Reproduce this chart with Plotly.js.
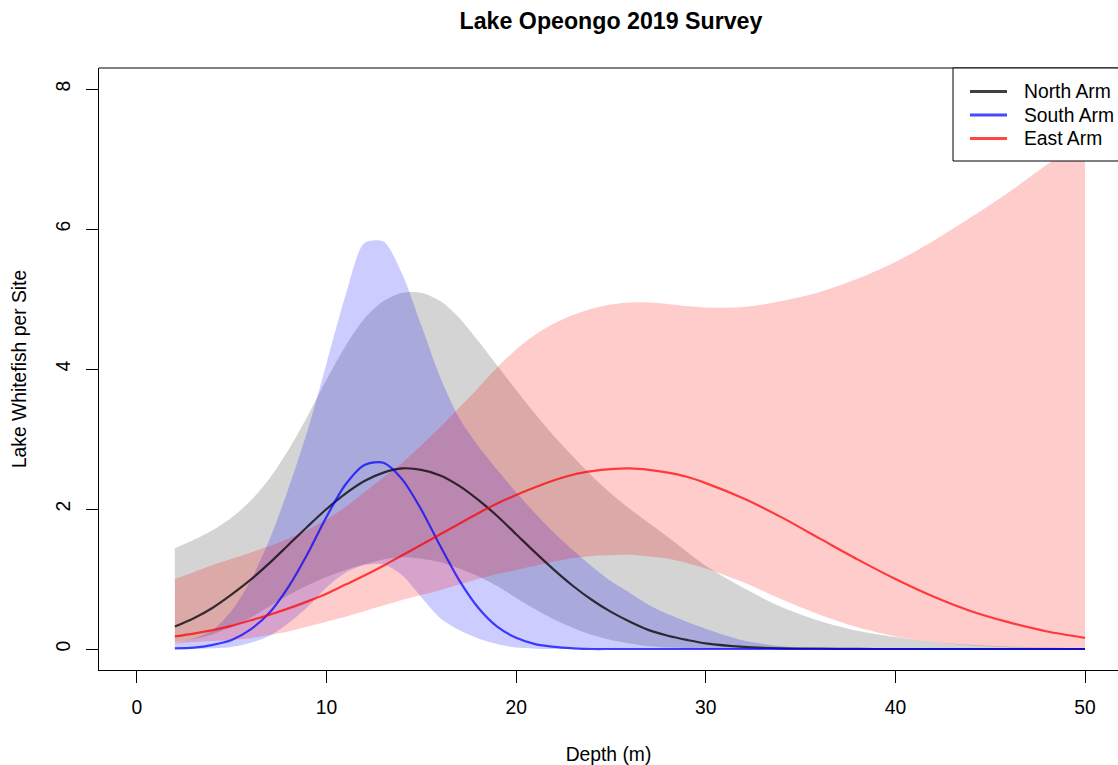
<!DOCTYPE html>
<html>
<head>
<meta charset="utf-8">
<script src="https://cdn.plot.ly/plotly-3.0.1.min.js"></script>
<style>html,body{margin:0;padding:0;background:#fff;overflow:hidden;}</style>
</head>
<body>
<div id="chart" style="width:1118px;height:765px;"></div>
<script>
// Depth grid (m)
const depth = [2,3,4,5,6,7,8,9,10,11,12,13,14,15,16,17,18,19,20,21,22,23,24,25,26,27,28,29,30,32,34,36,38,40,42,44,46,48,50];

// North Arm: fitted mean and confidence band
const northMean = [0.32,0.44,0.59,0.78,0.99,1.23,1.49,1.75,2.00,2.22,2.40,2.52,2.58,2.56,2.48,2.33,2.13,1.90,1.64,1.38,1.13,0.90,0.70,0.53,0.39,0.27,0.19,0.13,0.08,0.03,0.01,0.004,0.001,0,0,0,0,0,0];
const northUpper = [1.44,1.56,1.70,1.88,2.12,2.44,2.85,3.33,3.85,4.33,4.72,4.97,5.09,5.09,4.97,4.73,4.40,4.05,3.70,3.36,3.04,2.75,2.47,2.22,2.00,1.80,1.60,1.39,1.19,0.87,0.60,0.40,0.26,0.17,0.10,0.06,0.035,0.02,0.012];
const northLower = [0.10,0.14,0.21,0.32,0.45,0.61,0.77,0.91,1.03,1.13,1.21,1.28,1.31,1.29,1.24,1.15,1.04,0.90,0.73,0.57,0.42,0.30,0.20,0.13,0.08,0.04,0.02,0.01,0.005,0,0,0,0,0,0,0,0,0,0];

// South Arm
const southMean = [0.01,0.02,0.06,0.13,0.28,0.52,0.89,1.36,1.89,2.35,2.63,2.66,2.42,1.99,1.47,0.98,0.59,0.32,0.16,0.07,0.03,0.01,0,0,0,0,0,0,0,0,0,0,0,0,0,0,0,0,0];
const southUpper = [0.09,0.15,0.27,0.55,0.98,1.57,2.30,3.12,4.08,5.05,5.80,5.82,5.35,4.62,3.88,3.30,2.90,2.56,2.24,1.94,1.66,1.41,1.18,0.97,0.80,0.63,0.50,0.39,0.29,0.12,0.04,0.01,0,0,0,0,0,0,0];
const southLower = [0.001,0.002,0.012,0.03,0.09,0.19,0.37,0.60,0.88,1.09,1.20,1.21,1.05,0.74,0.44,0.27,0.15,0.07,0.02,0.005,0,0,0,0,0,0,0,0,0,0,0,0,0,0,0,0,0,0,0];

// East Arm
const eastMean = [0.18,0.22,0.27,0.33,0.41,0.49,0.58,0.68,0.79,0.92,1.05,1.19,1.34,1.49,1.64,1.79,1.94,2.08,2.20,2.31,2.41,2.49,2.54,2.57,2.58,2.56,2.52,2.46,2.37,2.15,1.88,1.58,1.28,1.00,0.75,0.54,0.38,0.25,0.16];
const eastUpper = [1.00,1.10,1.20,1.29,1.38,1.47,1.58,1.70,1.85,2.03,2.24,2.45,2.66,2.91,3.17,3.45,3.73,4.02,4.28,4.49,4.65,4.77,4.86,4.92,4.95,4.95,4.93,4.90,4.88,4.885,4.97,5.10,5.29,5.53,5.83,6.17,6.53,6.92,7.30];
const eastLower = [0.08,0.10,0.115,0.13,0.155,0.20,0.25,0.32,0.39,0.46,0.54,0.62,0.70,0.77,0.84,0.92,1.00,1.07,1.13,1.19,1.25,1.30,1.33,1.34,1.345,1.32,1.29,1.23,1.15,0.95,0.71,0.49,0.31,0.18,0.10,0.05,0.025,0.012,0.005];

const seriesNames = ["North Arm", "South Arm", "East Arm"];
const xTicks = [0,10,20,30,40,50];
const yTicks = [0,2,4,6,8];

const bandColors = ["rgba(0,0,0,0.17)", "rgba(0,0,255,0.2)", "rgba(255,0,0,0.2)"];
const lineColors = ["rgba(0,0,0,0.75)", "rgba(0,0,255,0.72)", "rgba(255,0,0,0.72)"];

const means = [northMean, southMean, eastMean];
const uppers = [northUpper, southUpper, eastUpper];
const lowers = [northLower, southLower, eastLower];

const FONT = "Liberation Sans, Arial, Helvetica, sans-serif";
const traces = [];
for (let i = 0; i < 3; i++) {
  traces.push({
    x: depth, y: lowers[i], type: "scatter", mode: "lines",
    line: {width: 0, shape: "spline", smoothing: 0.8, color: "rgba(0,0,0,0)"},
    hoverinfo: "skip", showlegend: false, name: seriesNames[i] + " lower"
  });
  traces.push({
    x: depth, y: uppers[i], type: "scatter", mode: "lines",
    fill: "tonexty", fillcolor: bandColors[i],
    line: {width: 0, shape: "spline", smoothing: 0.8, color: "rgba(0,0,0,0)"},
    hoverinfo: "skip", showlegend: false, name: seriesNames[i] + " upper"
  });
}
for (let i = 0; i < 3; i++) {
  traces.push({
    x: depth, y: means[i], type: "scatter", mode: "lines",
    line: {width: 2.2, shape: "spline", smoothing: 0.8, color: lineColors[i]},
    showlegend: false, name: seriesNames[i]
  });
}

// plot area in pixels (for the R-style legend box)
const W = 1118, H = 765, mL = 99, mR = 0, mT = 68, mB = 95;
const pw = W - mL - mR, ph = H - mT - mB;
const px = v => (v - mL) / pw;
const py = v => (H - mB - v) / ph;

const shapes = [
  {type: "line", xref: "paper", yref: "paper", x0: 0, x1: 1, y0: 1, y1: 1, line: {color: "#000", width: 1}},
  {type: "rect", xref: "paper", yref: "paper", layer: "above", x0: px(953), x1: px(1130), y0: py(161), y1: 1,
   fillcolor: "#fff", line: {color: "#000", width: 1}}
];
const annotations = [];
const itemY = [91.5, 115, 138.5];
for (let i = 0; i < 3; i++) {
  shapes.push({type: "line", xref: "paper", yref: "paper", layer: "above",
    x0: px(970), x1: px(1007), y0: py(itemY[i]), y1: py(itemY[i]),
    line: {color: lineColors[i], width: 3}});
  annotations.push({xref: "paper", yref: "paper", x: px(1022), y: py(itemY[i]),
    xanchor: "left", yanchor: "middle", showarrow: false, text: seriesNames[i],
    font: {family: FONT, size: 19.3, color: "#000"}});
}

const layout = {
  width: W, height: H,
  margin: {l: mL, r: mR, t: mT, b: mB, pad: 0},
  paper_bgcolor: "#fff", plot_bgcolor: "#fff",
  showlegend: false,
  title: {
    text: "<b>Lake Opeongo 2019 Survey</b>",
    font: {family: FONT, size: 23.2, color: "#000"},
    xref: "container", x: 611 / W, xanchor: "center",
    yref: "container", y: 1 - 21 / H, yanchor: "middle"
  },
  xaxis: {
    range: [-2.0, 51.74], tickvals: xTicks, ticktext: xTicks.map(String),
    ticks: "outside", ticklen: 12, tickwidth: 1, tickcolor: "#000",
    showline: true, linecolor: "#000", linewidth: 1, mirror: false,
    showgrid: false, zeroline: false,
    tickfont: {family: FONT, size: 19.3, color: "#000"},
    ticklabelstandoff: 8,
    title: {text: "Depth (m)", font: {family: FONT, size: 19.3, color: "#000"}, standoff: 31}
  },
  yaxis: {
    range: [-0.3, 8.3], tickvals: yTicks, ticktext: yTicks.map(String),
    ticks: "outside", ticklen: 12, tickwidth: 1, tickcolor: "#000",
    showline: true, linecolor: "#000", linewidth: 1, mirror: false,
    showgrid: false, zeroline: false, tickangle: -90,
    tickfont: {family: FONT, size: 19.3, color: "#000"},
    ticklabelstandoff: 8,
    title: {text: "Lake Whitefish per Site", font: {family: FONT, size: 19.3, color: "#000"}, standoff: 21}
  },
  shapes: shapes,
  annotations: annotations
};

Plotly.newPlot("chart", traces, layout, {displayModeBar: false, responsive: false});
</script>
</body>
</html>
